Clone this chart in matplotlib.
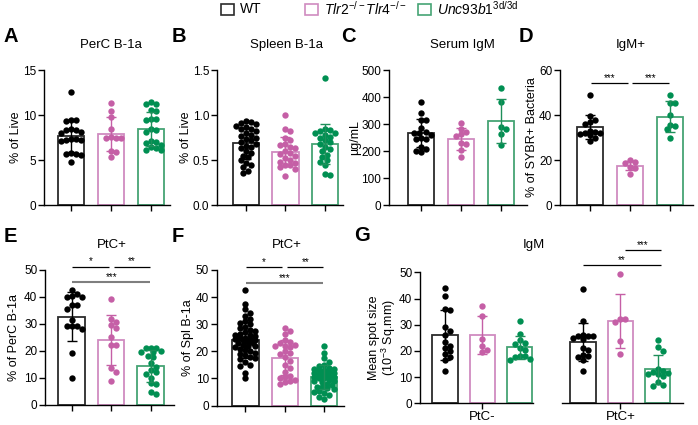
import numpy as np
import matplotlib
matplotlib.use('Agg')
import matplotlib.pyplot as plt
from matplotlib.patches import Rectangle

plt.rcParams['font.family'] = ['Liberation Sans', 'DejaVu Sans']
plt.rcParams['mathtext.fontset'] = 'custom'
plt.rcParams['mathtext.rm'] = 'Liberation Sans'
plt.rcParams['mathtext.it'] = 'Liberation Sans:italic'
plt.rcParams['font.size'] = 9

W, H = 698, 425

# groups and colours
groups = ['WT', r'$\mathit{Tlr2}^{-/-}\mathit{Tlr4}^{-/-}$', r'$\mathit{Unc93b1}^{\mathrm{3d/3d}}$']
dot_colors = ['#000000', '#C55FA6', '#008F52']
edge_colors = ['#2B2B2B', '#D08BC0', '#45A474']
err_colors = ['#000000', '#C55FA6', '#1E8F5A']

# A: PerC B-1a (% of live)
perc_wt = [12.6, 9.5, 9.4, 9.3, 8.4, 8.3, 8.3, 8.1, 8.0, 7.3, 7.3, 7.2, 7.2, 7.1, 5.8, 5.7, 5.7, 5.6, 4.8]
perc_tlr = [11.3, 10.4, 9.8, 8.4, 7.4, 7.4, 7.6, 7.4, 6.0, 5.9, 5.3]
perc_unc = [11.2, 11.5, 11.2, 10.6, 10.4, 9.6, 9.6, 9.5, 8.3, 8.4, 8.1, 6.9, 7.0, 6.4, 7.1, 6.7, 6.3, 6.1, 6.1]

# B: Spleen B-1a (% of live)
spl_wt = [0.93, 0.92, 0.91, 0.90, 0.88, 0.87, 0.85, 0.84, 0.82, 0.80, 0.78, 0.77, 0.75, 0.73, 0.72,
          0.70, 0.68, 0.66, 0.65, 0.63, 0.60, 0.58, 0.55, 0.53, 0.50, 0.47, 0.45, 0.42, 0.38, 0.36]
spl_tlr = [1.0, 0.85, 0.82, 0.75, 0.72, 0.68, 0.67, 0.65, 0.63, 0.60, 0.58, 0.57, 0.55, 0.52, 0.50,
           0.48, 0.47, 0.45, 0.44, 0.42, 0.40, 0.32]
spl_unc = [1.41, 0.85, 0.83, 0.82, 0.80, 0.80, 0.78, 0.76, 0.75, 0.72, 0.70, 0.68, 0.65, 0.62, 0.60,
           0.56, 0.53, 0.50, 0.48, 0.45, 0.35, 0.33]

# C: Serum IgM (ug/mL)
serum_wt = [382, 342, 315, 313, 285, 270, 267, 265, 258, 247, 246, 245, 215, 208, 200, 196]
serum_tlr = [304, 282, 270, 262, 255, 230, 226, 203, 177]
serum_unc = [435, 382, 280, 289, 262, 221]

# D: IgM+ (% of SYBR+ bacteria)
sybr_wt = [49, 39.5, 38, 37, 36, 33, 32.5, 32, 32, 31.5, 31, 30, 28.5]
sybr_tlr = [19.8, 19.2, 18.8, 17.0, 16.5, 14.0]
sybr_unc = [49.1, 45.4, 45.4, 39.9, 35.7, 35.0, 33.6, 29.9]

# E: PtC+ (% of PerC B-1a)
ptc_perc_wt = [42.5, 41, 40.5, 40, 40, 37, 37, 35.5, 31.5, 29, 29, 29, 28, 19, 10]
ptc_perc_tlr = [39.1, 31.6, 30.8, 29.5, 28.5, 25.2, 22.1, 22.3, 13.6, 12.2, 8.7]
ptc_perc_unc = [21, 21, 21, 20, 19.5, 19.5, 18, 17.5, 15.5, 14, 13, 12, 11.5, 10, 8, 7.5, 4.5, 4]

# F: PtC+ (% of Spl B-1a)
ptc_spl_wt = [42.5, 37.5, 35.5, 34, 33, 32, 31, 30.5, 30, 29, 28.5, 28, 27.5, 27, 26.5, 26, 26, 25.5,
              25, 25, 24.5, 24.5, 24, 24, 23.5, 23, 23, 22.5, 22, 22, 21.5, 21, 20.5, 20, 19.5, 19,
              18.5, 18, 17.5, 17, 16, 15, 14.5, 12, 10]
ptc_spl_tlr = [28.5, 27.5, 26.5, 24, 23.5, 23, 22.5, 22, 22, 21.5, 20, 19.5, 19, 18, 16.5, 15, 14,
               12.5, 11, 10.5, 10, 9.5, 9, 8.5, 8]
ptc_spl_unc = [22, 19.5, 17.5, 16, 15, 14.5, 14, 13.5, 13.5, 13, 13, 12.5, 12.5, 12, 12, 12, 11.5,
               11.5, 11, 11, 10.5, 10.5, 10, 10, 9.5, 9, 9, 8.5, 8, 7.5, 7, 7, 6.5, 6, 5.5, 5, 4.5,
               4, 3, 2.5]

# G: IgM mean spot size (10^-3 sq.mm), PtC- and PtC+
spot_neg_wt = [44, 41, 36, 35.5, 29, 27.5, 26, 23.5, 22, 21, 20, 19, 17.5, 16.5, 12.5]
spot_neg_tlr = [37, 33.5, 24.5, 22, 20.5, 19.5]
spot_neg_unc = [31.5, 26.5, 24, 23, 22.5, 21, 20.5, 18, 18, 17.5, 17, 16.5]
spot_pos_wt = [43.5, 31.5, 26, 25.5, 25.5, 25.5, 25, 24.5, 21, 20.5, 18.5, 18, 17.5, 16.5, 12.5]
spot_pos_tlr = [49.2, 32.2, 32.2, 31.2, 23.9, 18.8]
spot_pos_unc = [24, 21.5, 20, 13, 12.5, 12, 11.5, 11, 11, 10.5, 8, 7, 6.5]

fig = plt.figure(figsize=(W / 100, H / 100), dpi=100)


def px_axes(left, top, right, bottom):
    return fig.add_axes([left / W, 1 - bottom / H, (right - left) / W, (bottom - top) / H])


def swarm(vals, xpx, ypx, d=5.0, half=11.5):
    # simple beeswarm in pixel space, capped to a max half-width
    vals = np.asarray(vals, float)
    order = np.argsort(-vals, kind='stable')
    placed = []
    offs = np.zeros(len(vals))
    step = d * 0.5
    cands = [0.0]
    k = 1
    while k * step <= half:
        cands += [k * step, -k * step]
        k += 1
    for i in order:
        y = vals[i] * ypx
        best, best_d = 0.0, -1
        for x in cands:
            md = min([np.hypot(x - px, y - py) for px, py in placed] + [99])
            if md >= d:
                best = x
                break
            if md > best_d:
                best, best_d = x, md
        placed.append((best, y))
        offs[i] = best / xpx
    return offs


def bars(ax, sets, xlim, ylim, yticks, yticklabels=None, left_spine=True):
    ax.set_xlim(*xlim)
    ax.set_ylim(*ylim)
    bb = ax.get_position()
    xpx = bb.width * W / (xlim[1] - xlim[0])
    ypx = bb.height * H / (ylim[1] - ylim[0])
    for i, vals in enumerate(sets):
        v = np.asarray(vals, float)
        m, sd = v.mean(), v.std(ddof=1)
        ax.bar(i, m, width=0.67, facecolor='white', edgecolor=edge_colors[i], linewidth=1.3, zorder=1)
        ax.scatter(i + swarm(v, xpx, ypx), v, s=21, color=dot_colors[i], linewidths=0, zorder=2,
                   clip_on=False)
        ax.errorbar(i, m, yerr=sd, color=err_colors[i], capsize=3.5, elinewidth=1, capthick=1, zorder=3)
    for s in ['top', 'right']:
        ax.spines[s].set_visible(False)
    ax.spines['left'].set_bounds(ylim[0], ylim[1])
    ax.spines['left'].set_linewidth(1)
    ax.spines['bottom'].set_linewidth(1)
    ax.set_xticks(range(len(sets)))
    ax.set_xticklabels([])
    ax.tick_params(direction='out', length=4, width=1, labelsize=8.5, pad=1.5)
    if left_spine:
        ax.set_yticks(yticks)
        if yticklabels is not None:
            ax.set_yticklabels(yticklabels)
    else:
        ax.spines['left'].set_visible(False)
        ax.set_yticks([])


def sig(ax, x0, x1, y, text, color='black', lw=0.9):
    ax.plot([x0, x1], [y, y], color=color, lw=lw, clip_on=False, solid_capstyle='butt')
    ax.text((x0 + x1) / 2, y, text, ha='center', va='bottom', fontsize=7, clip_on=False)


def letter(x, y, s):
    fig.text(x / W, 1 - y / H, s, fontsize=14.5, fontweight='bold', va='center', ha='left')


def title(x, y, s):
    fig.text(x / W, 1 - y / H, s, fontsize=9.5, ha='center', va='center')


# A
axA = px_axes(44, 70, 170, 205)
bars(axA, [perc_wt, perc_tlr, perc_unc], (-0.675, 2.475), (0, 15), [0, 5, 10, 15])
axA.set_ylabel('% of Live', fontsize=9)
axA.yaxis.set_label_coords(-0.175, 0.5)

# B
axB = px_axes(217, 70, 343, 205)
bars(axB, [spl_wt, spl_tlr, spl_unc], (-0.734, 2.456), (0, 1.5), [0, 0.5, 1.0, 1.5],
     ['0.0', '0.5', '1.0', '1.5'])
axB.set_ylabel('% of Live', fontsize=9)
axB.yaxis.set_label_coords(-0.198, 0.5)

# C
axC = px_axes(389, 70, 527, 205)
bars(axC, [serum_wt, serum_tlr, serum_unc], (-0.8, 2.65), (0, 500), [0, 100, 200, 300, 400, 500])
axC.set_ylabel('\u00b5g/mL', fontsize=9)
axC.yaxis.set_label_coords(-0.205, 0.5)

# D
axD = px_axes(560, 70, 693, 205)
bars(axD, [sybr_wt, sybr_tlr, sybr_unc], (-0.75, 2.575), (0, 60), [0, 20, 40, 60])
axD.set_ylabel('% of SYBR+ Bacteria', fontsize=9)
axD.yaxis.set_label_coords(-0.165, 0.5)
sig(axD, 0.02, 0.95, 54.3, '***')
sig(axD, 1.05, 1.98, 54.3, '***')

# E
axE = px_axes(45, 270, 174, 404.5)
bars(axE, [ptc_perc_wt, ptc_perc_tlr, ptc_perc_unc], (-0.675, 2.59), (0, 50), range(0, 51, 10))
axE.set_ylabel('% of PerC B-1a', fontsize=9)
axE.yaxis.set_label_coords(-0.194, 0.5)
sig(axE, 0.02, 0.94, 51.3, '*')
sig(axE, 1.06, 1.98, 51.3, '**')
sig(axE, 0.02, 1.98, 45.6, '***', color='#7F7F7F', lw=1.5)

# F
axF = px_axes(216.5, 270, 344, 405.5)
bars(axF, [ptc_spl_wt, ptc_spl_tlr, ptc_spl_unc], (-0.73, 2.5), (0, 50), range(0, 51, 10))
axF.set_ylabel('% of Spl B-1a', fontsize=9)
axF.yaxis.set_label_coords(-0.175, 0.5)
sig(axF, 0.02, 0.94, 51.0, '*')
sig(axF, 1.06, 1.98, 51.0, '**')
sig(axF, 0.02, 1.98, 45.3, '***', color='#7F7F7F', lw=1.5)

# G
axG1 = px_axes(420, 272.3, 533, 403.3)
bars(axG1, [spot_neg_wt, spot_neg_tlr, spot_neg_unc], (-0.667, 2.35), (0, 50), range(0, 51, 10))
axG1.set_ylabel('Mean spot size\n(10$^{-3}$ Sq.mm)', fontsize=9, linespacing=1.0)
axG1.yaxis.set_label_coords(-0.195, 0.5)
axG2 = px_axes(562, 272.3, 683, 403.3)
bars(axG2, [spot_pos_wt, spot_pos_tlr, spot_pos_unc], (-0.56, 2.67), (0, 50), [], left_spine=False)
for ax, lab in [(axG1, 'PtC-'), (axG2, 'PtC+')]:
    ax.set_xticks([1])
    ax.set_xticklabels([lab], fontsize=9.5)
sig(axG2, 0.0, 2.07, 52.8, '**')
sig(axG2, 1.13, 2.07, 58.5, '***')

# titles and letters
for x, y, s in [(111, 45, 'PerC B-1a'), (287, 45, 'Spleen B-1a'), (462, 45, 'Serum IgM'),
                (631, 45, 'IgM+'), (112, 245, 'PtC+'), (287, 245, 'PtC+'), (534, 245, 'IgM')]:
    title(x, y, s)
for x, y, s in [(4, 36, 'A'), (172, 36, 'B'), (341, 36, 'C'), (519, 36, 'D'),
                (4, 236, 'E'), (172, 236, 'F'), (354, 235, 'G')]:
    letter(x, y, s)

# legend
for x, lab, c in zip([221, 305, 418], groups, edge_colors):
    fig.add_artist(Rectangle((x / W, 1 - 14.5 / H), 13 / W, 11 / H, transform=fig.transFigure,
                             fill=False, edgecolor=c, lw=1.2))
    fig.text((x + 19) / W, 1 - 9 / H, lab, fontsize=10, va='center', ha='left')

fig.savefig('out.png', dpi=100)
